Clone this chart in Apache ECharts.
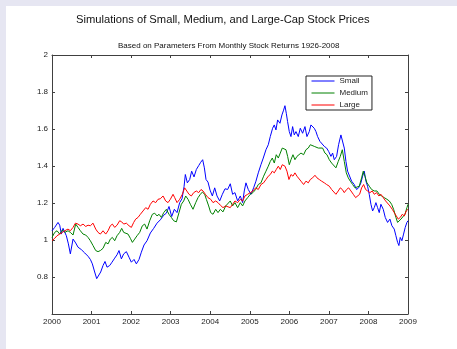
<!DOCTYPE html>
<html><head><meta charset="utf-8">
<script src="https://cdn.jsdelivr.net/npm/echarts@6/dist/echarts.min.js"></script>
<style>
html,body{margin:0;padding:0;width:457px;height:349px;background:#e6e6f2;overflow:hidden}
#panel{position:absolute;left:6px;top:6px;width:451px;height:343px;background:#fff}
#chart{position:absolute;left:0;top:0;width:457px;height:349px}
</style></head><body><div id="panel"></div><div id="chart"></div>
<script>
const titleText = 'Simulations of Small, Medium, and Large-Cap Stock Prices';
const subtitleText = 'Based on Parameters From Monthly Stock Returns 1926-2008';
const seriesNames = ['Small', 'Medium', 'Large'];
const seriesColors = ['#0000ff', '#008000', '#ff0000'];
const xRange = [2000, 2009];
const yRange = [0.6, 2];

const small = [
[2000.000,1.050],[2000.068,1.068],[2000.152,1.095],[2000.195,1.080],[2000.237,1.032],[2000.279,1.063],[2000.363,1.023],[2000.414,0.979],[2000.464,0.925],[2000.532,1.005],[2000.599,0.984],[2000.658,0.961],[2000.742,0.948],[2000.827,0.930],[2000.911,0.912],[2000.970,0.895],
[2001.020,0.871],[2001.079,0.827],[2001.130,0.791],[2001.180,0.800],[2001.231,0.827],[2001.290,0.862],[2001.340,0.884],[2001.391,0.853],[2001.459,0.862],[2001.517,0.880],[2001.585,0.902],[2001.644,0.920],[2001.694,0.943],[2001.754,0.898],[2001.812,0.925],[2001.880,0.937],[2001.947,0.907],
[2002.006,0.880],[2002.074,0.895],[2002.133,0.871],[2002.200,0.895],[2002.259,0.934],[2002.326,0.973],[2002.402,0.996],[2002.487,1.038],[2002.571,1.063],[2002.655,1.091],[2002.739,1.109],[2002.824,1.134],[2002.891,1.145],[2002.958,1.181],
[2003.026,1.127],[2003.093,1.166],[2003.161,1.148],[2003.228,1.202],[2003.287,1.223],[2003.338,1.288],[2003.371,1.354],[2003.422,1.309],[2003.481,1.327],[2003.531,1.372],[2003.590,1.341],[2003.649,1.381],[2003.708,1.402],[2003.759,1.420],[2003.809,1.434],[2003.852,1.390],[2003.894,1.327],[2003.944,1.313],[2003.995,1.270],
[2004.054,1.238],[2004.113,1.282],[2004.172,1.238],[2004.239,1.211],[2004.307,1.247],[2004.374,1.277],[2004.440,1.273],[2004.507,1.304],[2004.566,1.247],[2004.625,1.256],[2004.693,1.211],[2004.760,1.238],[2004.819,1.202],[2004.861,1.265],[2004.903,1.309],[2004.962,1.273],
[2005.030,1.247],[2005.097,1.282],[2005.156,1.318],[2005.215,1.363],[2005.282,1.407],[2005.341,1.443],[2005.409,1.488],[2005.468,1.515],[2005.518,1.559],[2005.577,1.604],[2005.619,1.622],[2005.662,1.595],[2005.704,1.649],[2005.763,1.631],[2005.813,1.676],[2005.855,1.702],[2005.889,1.726],[2005.923,1.685],[2005.956,1.640],[2005.999,1.586],
[2006.041,1.559],[2006.083,1.613],[2006.125,1.568],[2006.167,1.586],[2006.226,1.559],[2006.277,1.604],[2006.336,1.577],[2006.395,1.613],[2006.445,1.559],[2006.504,1.586],[2006.546,1.622],[2006.588,1.631],[2006.630,1.604],[2006.673,1.586],[2006.715,1.559],[2006.774,1.533],[2006.824,1.542],[2006.883,1.506],[2006.942,1.497],[2006.993,1.479],
[2007.052,1.452],[2007.094,1.470],[2007.136,1.434],[2007.195,1.452],[2007.245,1.515],[2007.304,1.568],[2007.346,1.577],[2007.389,1.497],[2007.431,1.425],[2007.473,1.372],[2007.523,1.381],[2007.574,1.318],[2007.641,1.300],[2007.700,1.273],[2007.751,1.282],[2007.810,1.309],[2007.852,1.345],[2007.894,1.372],[2007.936,1.318],[2007.978,1.291],
[2008.020,1.247],[2008.063,1.193],[2008.105,1.157],[2008.147,1.175],[2008.189,1.202],[2008.231,1.175],[2008.273,1.148],[2008.315,1.193],[2008.374,1.166],[2008.425,1.122],[2008.484,1.095],[2008.543,1.113],[2008.593,1.077],[2008.652,1.059],[2008.694,1.023],[2008.737,0.987],[2008.770,0.970],[2008.804,1.014],[2008.846,0.996],[2008.888,1.032],[2008.930,1.068],[2008.972,1.095],[2009.000,1.104]
];

const medium = [
[2000.000,1.014],[2000.068,1.041],[2000.127,1.050],[2000.195,1.032],[2000.262,1.055],[2000.321,1.041],[2000.405,1.050],[2000.464,1.041],[2000.532,1.027],[2000.599,1.086],[2000.658,1.068],[2000.717,1.050],[2000.785,1.032],[2000.852,1.027],[2000.911,1.014],[2000.970,0.996],
[2001.037,0.970],[2001.105,0.943],[2001.164,0.937],[2001.223,0.943],[2001.290,0.955],[2001.358,0.987],[2001.417,0.979],[2001.475,1.005],[2001.526,1.014],[2001.585,0.996],[2001.644,1.023],[2001.711,1.041],[2001.762,1.063],[2001.813,1.041],[2001.863,1.050],[2001.922,1.032],[2001.981,1.009],
[2002.032,0.987],[2002.091,1.005],[2002.150,1.023],[2002.217,1.041],[2002.284,1.077],[2002.343,1.086],[2002.402,1.059],[2002.470,1.104],[2002.537,1.139],[2002.596,1.145],[2002.655,1.130],[2002.706,1.139],[2002.765,1.122],[2002.824,1.148],[2002.891,1.166],[2002.958,1.139],
[2003.017,1.122],[2003.076,1.104],[2003.144,1.098],[2003.211,1.148],[2003.270,1.193],[2003.329,1.211],[2003.380,1.238],[2003.439,1.220],[2003.498,1.193],[2003.565,1.166],[2003.633,1.202],[2003.692,1.229],[2003.751,1.247],[2003.801,1.259],[2003.860,1.247],[2003.902,1.220],[2003.961,1.184],
[2004.012,1.148],[2004.071,1.139],[2004.138,1.166],[2004.197,1.148],[2004.256,1.166],[2004.323,1.152],[2004.391,1.184],[2004.440,1.193],[2004.507,1.211],[2004.566,1.184],[2004.625,1.202],[2004.693,1.175],[2004.760,1.202],[2004.819,1.184],[2004.878,1.211],[2004.946,1.229],
[2005.013,1.247],[2005.080,1.256],[2005.148,1.273],[2005.215,1.300],[2005.283,1.309],[2005.350,1.345],[2005.409,1.372],[2005.468,1.399],[2005.519,1.425],[2005.569,1.443],[2005.620,1.416],[2005.670,1.461],[2005.721,1.443],[2005.771,1.470],[2005.822,1.497],[2005.872,1.506],[2005.915,1.488],[2005.957,1.452],[2005.999,1.407],
[2006.041,1.434],[2006.092,1.461],[2006.142,1.434],[2006.193,1.452],[2006.243,1.443],[2006.294,1.470],[2006.361,1.461],[2006.420,1.488],[2006.479,1.497],[2006.530,1.515],[2006.580,1.518],[2006.631,1.506],[2006.681,1.515],[2006.732,1.497],[2006.782,1.488],[2006.841,1.497],[2006.900,1.470],[2006.951,1.461],
[2007.010,1.434],[2007.069,1.416],[2007.119,1.407],[2007.178,1.390],[2007.237,1.425],[2007.288,1.452],[2007.339,1.488],[2007.389,1.425],[2007.440,1.363],[2007.490,1.336],[2007.541,1.318],[2007.600,1.300],[2007.659,1.282],[2007.709,1.273],[2007.768,1.291],[2007.827,1.336],[2007.869,1.372],[2007.911,1.345],[2007.962,1.309],
[2008.021,1.291],[2008.080,1.273],[2008.147,1.265],[2008.215,1.265],[2008.274,1.247],[2008.333,1.238],[2008.400,1.229],[2008.468,1.220],[2008.527,1.211],[2008.586,1.193],[2008.636,1.166],[2008.695,1.122],[2008.737,1.095],[2008.779,1.104],[2008.822,1.113],[2008.872,1.122],[2008.923,1.139],[2008.973,1.175],[2009.000,1.193]
];

const large = [
[2000.000,0.996],[2000.068,1.009],[2000.127,1.023],[2000.195,1.032],[2000.262,1.041],[2000.321,1.050],[2000.405,1.059],[2000.464,1.050],[2000.532,1.068],[2000.591,1.091],[2000.658,1.086],[2000.717,1.077],[2000.785,1.086],[2000.852,1.073],[2000.911,1.080],[2000.970,1.077],
[2001.037,1.091],[2001.105,1.059],[2001.164,1.041],[2001.223,1.032],[2001.290,1.050],[2001.358,1.032],[2001.417,1.050],[2001.475,1.077],[2001.526,1.086],[2001.585,1.068],[2001.644,1.080],[2001.711,1.104],[2001.762,1.098],[2001.813,1.086],[2001.880,1.091],[2001.947,1.077],
[2002.006,1.068],[2002.065,1.095],[2002.116,1.113],[2002.175,1.122],[2002.234,1.139],[2002.301,1.157],[2002.369,1.175],[2002.428,1.166],[2002.487,1.193],[2002.554,1.211],[2002.621,1.202],[2002.680,1.220],[2002.739,1.223],[2002.807,1.238],[2002.874,1.211],[2002.933,1.202],[2002.992,1.220],
[2003.060,1.247],[2003.102,1.229],[2003.161,1.202],[2003.228,1.220],[2003.295,1.247],[2003.354,1.282],[2003.397,1.273],[2003.464,1.247],[2003.523,1.238],[2003.582,1.256],[2003.649,1.265],[2003.708,1.256],[2003.767,1.273],[2003.818,1.265],[2003.877,1.247],[2003.944,1.229],
[2004.012,1.220],[2004.071,1.202],[2004.138,1.211],[2004.197,1.202],[2004.256,1.188],[2004.323,1.175],[2004.391,1.184],[2004.440,1.184],[2004.507,1.175],[2004.566,1.193],[2004.625,1.211],[2004.693,1.202],[2004.760,1.220],[2004.819,1.211],[2004.878,1.238],[2004.946,1.247],
[2005.013,1.256],[2005.080,1.265],[2005.148,1.282],[2005.215,1.273],[2005.283,1.300],[2005.350,1.309],[2005.409,1.327],[2005.468,1.345],[2005.519,1.354],[2005.569,1.372],[2005.620,1.363],[2005.670,1.381],[2005.721,1.399],[2005.771,1.381],[2005.822,1.407],[2005.856,1.416],[2005.889,1.399],[2005.940,1.372],[2005.990,1.327],
[2006.041,1.354],[2006.092,1.345],[2006.142,1.363],[2006.193,1.345],[2006.243,1.336],[2006.294,1.318],[2006.361,1.300],[2006.420,1.318],[2006.479,1.309],[2006.530,1.327],[2006.589,1.336],[2006.648,1.350],[2006.698,1.336],[2006.757,1.327],[2006.816,1.318],[2006.884,1.309],[2006.942,1.300],
[2007.010,1.291],[2007.069,1.273],[2007.119,1.265],[2007.178,1.247],[2007.237,1.265],[2007.288,1.282],[2007.339,1.273],[2007.389,1.256],[2007.448,1.273],[2007.499,1.282],[2007.558,1.265],[2007.617,1.247],[2007.676,1.229],[2007.726,1.238],[2007.777,1.247],[2007.827,1.282],[2007.878,1.300],[2007.928,1.273],[2007.979,1.265],
[2008.038,1.256],[2008.097,1.265],[2008.147,1.247],[2008.206,1.256],[2008.265,1.238],[2008.316,1.247],[2008.375,1.229],[2008.434,1.211],[2008.484,1.202],[2008.543,1.184],[2008.602,1.166],[2008.653,1.148],[2008.704,1.130],[2008.754,1.113],[2008.805,1.122],[2008.855,1.139],[2008.906,1.130],[2008.956,1.157],[2009.000,1.166]
];

const seriesData = [small, medium, large];
const font = "'Liberation Sans', Arial, Helvetica, sans-serif";
const axisColor = '#404040';
const labelColor = '#222';

const chart = echarts.init(document.getElementById('chart'), null, {renderer: 'canvas'});
const baseX = {
  type: 'value', min: xRange[0], max: xRange[1], interval: 1,
  axisLine: {show: true, onZero: false, lineStyle: {color: axisColor, width: 1}},
  axisTick: {show: true, inside: true, length: 3, lineStyle: {color: axisColor}},
  splitLine: {show: false}
};
const baseY = {
  type: 'value', min: yRange[0], max: yRange[1], interval: 0.2,
  axisLine: {show: true, onZero: false, lineStyle: {color: axisColor, width: 1}},
  axisTick: {show: true, inside: true, length: 3, lineStyle: {color: axisColor}},
  splitLine: {show: false}
};
chart.setOption({
  animation: false,
  backgroundColor: 'transparent',
  title: [
    {text: titleText, left: 71, top: 9, textStyle: {fontFamily: font, fontSize: 11.2, fontWeight: 'normal', color: '#111'}},
    {text: subtitleText, left: 113, top: 37, textStyle: {fontFamily: font, fontSize: 8, fontWeight: 'normal', color: '#111'}}
  ],
  grid: {left: 52, right: 49, top: 55, bottom: 35, containLabel: false},
  legend: {
    data: seriesNames, orient: 'vertical', left: 306, top: 76,
    itemWidth: 23, itemHeight: 8, itemGap: 4, padding: [1, 4, 1, 5],
    borderColor: '#222', borderWidth: 1, backgroundColor: '#fff',
    itemStyle: {opacity: 0, borderWidth: 0},
    lineStyle: {width: 1},
    textStyle: {fontFamily: font, fontSize: 8, color: labelColor}
  },
  xAxis: [
    Object.assign({}, baseX, {position: 'bottom',
      axisLabel: {show: true, margin: 4, fontFamily: font, fontSize: 8, color: labelColor, formatter: v => String(Math.round(v))}}),
    Object.assign({}, baseX, {position: 'top', axisLabel: {show: false}})
  ],
  yAxis: [
    Object.assign({}, baseY, {position: 'left',
      axisLabel: {show: true, margin: 4, fontFamily: font, fontSize: 8, color: labelColor,
        formatter: v => (v < 0.7 ? '' : String(+v.toFixed(1)))}}),
    Object.assign({}, baseY, {position: 'right', axisLabel: {show: false}})
  ],
  series: seriesNames.map((name, i) => ({
    name: name, type: 'line', xAxisIndex: 0, yAxisIndex: 0,
    data: seriesData[i], symbol: 'none', showSymbol: false,
    lineStyle: {color: seriesColors[i], width: 1}, itemStyle: {color: seriesColors[i]},
    silent: true
  }))
});
</script></body></html>
